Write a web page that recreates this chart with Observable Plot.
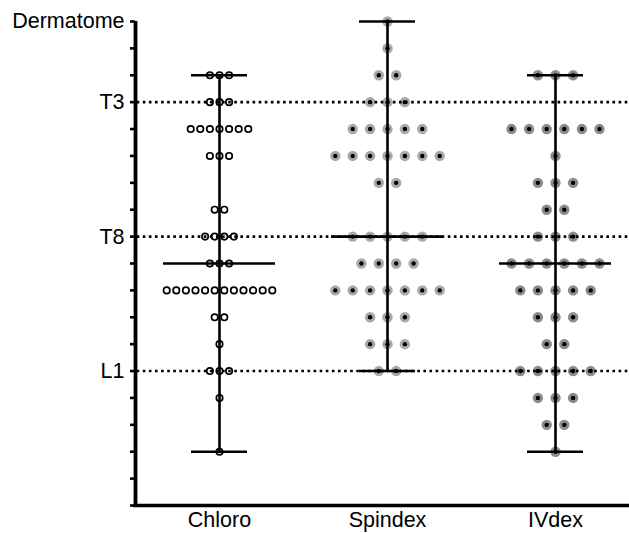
<!DOCTYPE html>
<html>
<head>
<meta charset="utf-8">
<script src="https://cdn.jsdelivr.net/npm/d3@7"></script>
<script src="https://cdn.jsdelivr.net/npm/@observablehq/plot@0.6"></script>
<style>
  html, body { margin: 0; padding: 0; background: #fff; }
</style>
</head>
<body>
<div id="chart"></div>
<script>
// Dermatome levels, top (C8) to bottom (S1)
const levels = ["C8","T1","T2","T3","T4","T5","T6","T7","T8","T9","T10","T11","T12","L1","L2","L3","L4","L5","S1"];
const groups = ["Chloro", "Spindex", "IVdex"];
// number of patients whose block reached each level (aligned with `levels`)
const chloroCounts  = [0,0,3,3,7,3,0,2,4,3,12,2,1,3,1,0,1,0,0];
const spindexCounts = [1,1,2,3,5,7,2,0,5,4,7,3,3,2,0,0,0,0,0];
const ivdexCounts   = [0,0,3,0,6,1,3,2,3,6,5,3,2,5,3,2,1,0,0];
const referenceLevels = ["T3", "T8", "L1"];
const yTitle = "Dermatome";

const countsByGroup = [chloroCounts, spindexCounts, ivdexCounts];
const lvl = name => levels.indexOf(name);

// dot layout: symmetric rows around each group's centre (in x units of one group step)
const step = 168;
const gapPx = [9.6, 17.4, 17.6];
const dots = [];
countsByGroup.forEach((counts, g) => {
  counts.forEach((n, li) => {
    for (let k = 0; k < n; k++) {
      dots.push({group: groups[g], g, level: li, x: g + (k - (n - 1) / 2) * gapPx[g] / step});
    }
  });
});

// summary: min, median, max per group
const summary = countsByGroup.map((counts, g) => {
  const vals = [];
  counts.forEach((n, li) => { for (let k = 0; k < n; k++) vals.push(li); });
  vals.sort(d3.ascending);
  return {g, min: d3.min(vals), max: d3.max(vals), median: d3.quantileSorted(vals, 0.5)};
});

const chloroDots = dots.filter(d => d.g === 0);
const spindexDots = dots.filter(d => d.g === 1);
const ivdexDots = dots.filter(d => d.g === 2);

const labelFor = i => i === 0 ? yTitle : (referenceLevels.includes(levels[i]) ? levels[i] : "");

const chart = Plot.plot({
  width: 629,
  height: 533,
  marginLeft: 135,
  marginRight: 0,
  marginTop: 21,
  marginBottom: 28,
  style: {fontFamily: "'Liberation Sans', Arial, sans-serif", fontSize: "21.5px", background: "#fff", color: "#000"},
  x: {type: "linear", domain: [0, 2], range: [219, 555]},
  y: {type: "linear", domain: [0, levels.length - 1], range: [21, 505]},
  marks: [
    // dots
    Plot.dot(chloroDots, {x: "x", y: "level", r: 3.2, fill: "#fff", stroke: "#000", strokeWidth: 1.7}),
    Plot.dot(spindexDots, {x: "x", y: "level", r: 5.2, fill: "#a9a9a9", stroke: "none"}),
    Plot.dot(spindexDots, {x: "x", y: "level", r: 2.2, fill: "#000", stroke: "none"}),
    Plot.dot(ivdexDots, {x: "x", y: "level", r: 5.2, fill: "#8c8c8c", stroke: "none"}),
    Plot.dot(ivdexDots, {x: "x", y: "level", r: 2.2, fill: "#000", stroke: "none"}),
    // reference dotted lines
    Plot.ruleY(referenceLevels.map(lvl), {y: d => d, x1: -0.49, x2: 2.45, stroke: "#000", strokeWidth: 2.6, strokeDasharray: "2.6 3.5"}),
    // range bars
    Plot.ruleX(summary, {x: "g", y1: "min", y2: "max", stroke: "#000", strokeWidth: 2.6}),
    Plot.ruleY(summary, {y: "max", x1: d => d.g - 1/6, x2: d => d.g + 1/6, stroke: "#000", strokeWidth: 2.6}),
    Plot.ruleY(summary, {y: "min", x1: d => d.g - 1/6, x2: d => d.g + 1/6, stroke: "#000", strokeWidth: 2.6}),
    Plot.ruleY(summary, {y: "median", x1: d => d.g - 1/3, x2: d => d.g + 1/3, stroke: "#000", strokeWidth: 2.6}),
    // axes
    Plot.axisY({ticks: d3.range(levels.length), tickSize: 5, tickPadding: 6, strokeWidth: 2.6, tickFormat: labelFor, label: null, anchor: "left"}),
    Plot.axisX({ticks: [0, 1, 2], tickSize: 0, tickPadding: 6.5, tickFormat: i => groups[i], label: null, anchor: "bottom"}),
    Plot.ruleX([0], {x: () => -0.5, stroke: "#000", strokeWidth: 3.8}),
    Plot.ruleY([levels.length - 1], {stroke: "#000", strokeWidth: 3.4, x1: -0.511, x2: 2.45})
  ]
});
document.getElementById("chart").appendChild(chart);
</script>
</body>
</html>
